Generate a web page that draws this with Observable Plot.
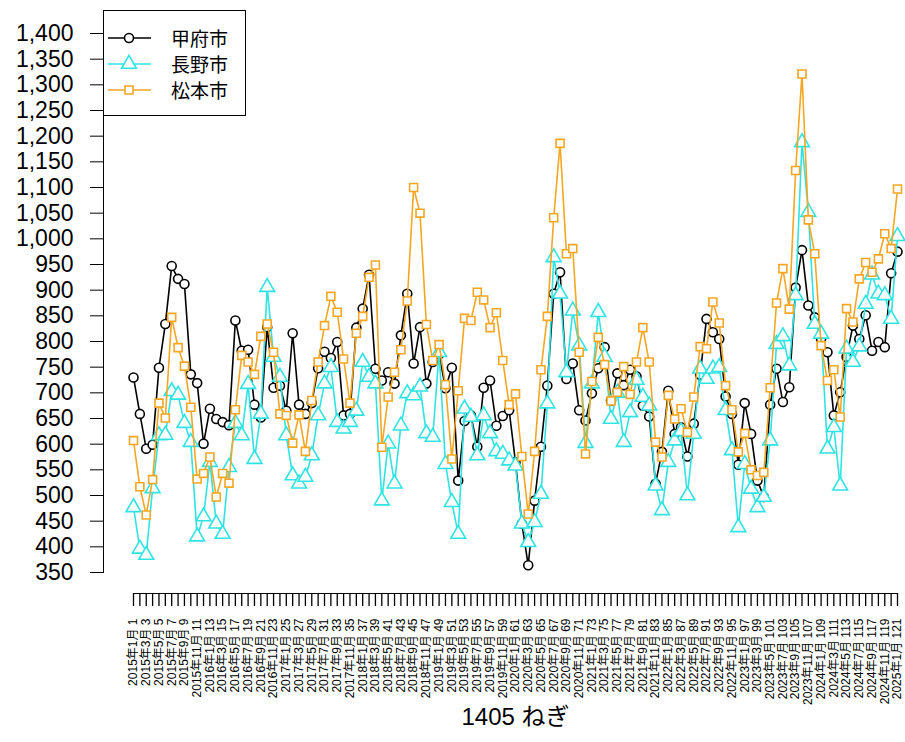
<!DOCTYPE html>
<html>
<head>
<meta charset="utf-8">
<script src="https://cdn.jsdelivr.net/npm/d3@7"></script>
<script src="https://cdn.jsdelivr.net/npm/@observablehq/plot@0.6"></script>
<style>
  html, body { margin: 0; padding: 0; background: #fff; }
  #wrap { position: relative; width: 905px; height: 742px; }
  #legend { position: absolute; left: 103px; top: 10px; width: 143px; height: 106px;
    border: 1px solid #000; background: #fff; box-sizing: border-box;
    font-family: "Noto Sans CJK JP", sans-serif; font-size: 19px; }
  .row { position: absolute; left: 0; height: 22px; display: flex; align-items: center; }
  .row svg { display: block; }
  .row span { margin-left: 20px; line-height: 20px; height: 20px; display: block; }
</style>
</head>
<body>
<div id="wrap"><div id="chart"></div><div id="legend"></div></div>
<script>
const seriesNames = ["甲府市", "長野市", "松本市"];
const seriesColors = ["#000000", "#2fe3e3", "#f5a623"];
const seriesSymbols = ["circle", "triangle", "square"];

const kofu = [730,659,591,599,749,834,947,922,912,736,719,601,669,649,643,637,841,782,784,677,
  652,828,710,714,665,816,677,659,680,748,780,768,799,656,659,827,864,930,747,724,
  740,718,812,893,757,828,718,760,775,709,749,529,645,656,595,710,724,636,655,666,
  565,445,364,490,595,714,893,935,727,757,666,646,699,748,789,685,738,715,745,732,
  675,654,523,585,704,620,633,576,640,735,844,818,805,693,659,560,680,620,529,497,
  677,747,682,711,905,978,870,847,805,779,656,701,770,831,805,851,782,799,789,933,975];

const nagano = [477,396,384,514,617,618,703,696,641,604,420,459,565,445,425,555,641,617,717,571,
  659,906,770,731,617,539,523,536,578,656,718,750,643,630,643,665,760,731,718,490,
  601,523,636,699,695,712,621,614,779,561,487,425,669,653,578,656,621,586,581,568,
  558,445,409,448,503,679,964,893,740,860,792,602,718,857,770,649,700,604,662,725,
  692,675,519,471,565,607,625,500,620,747,727,747,750,666,588,438,561,513,477,497,
  607,795,810,753,890,1188,1052,834,815,591,633,519,786,760,790,873,930,893,890,844,1005];

const matsumoto = [607,517,462,531,680,651,847,788,752,672,532,543,575,497,543,524,667,773,760,736,
  810,834,779,659,656,602,657,586,685,760,831,888,857,766,680,816,849,925,949,594,
  692,740,784,879,1100,1050,833,763,794,716,571,704,845,841,896,881,827,856,763,677,
  698,576,464,586,745,849,1041,1186,971,981,779,581,722,808,755,684,701,751,697,760,
  827,760,604,575,695,649,669,623,692,790,786,877,836,714,667,585,621,550,539,545,
  710,875,942,863,1133,1321,1037,971,792,724,745,653,864,838,922,954,935,961,1010,981,1097];

const yTicks = [350,400,450,500,550,600,650,700,750,800,850,900,950,1000,1050,1100,1150,1200,1250,1300,1350,1400];
const xIndex = d3.range(1, 122);
const xLabels = xIndex.map(i => {
  const m = (i - 1) % 12 + 1;
  const y = 2015 + Math.floor((i - 1) / 12);
  return `${y}年${m}月 ${i}`;
});
const xTitle = "1405 ねぎ";

const seriesValues = [kofu, nagano, matsumoto];
const tables = seriesValues.map((vals, s) => vals.map((v, i) => ({i: i + 1, v, s: seriesNames[s]})));

const marks = [
  Plot.frame({anchor: "left", dx: -30, stroke: "#000"}),
  Plot.frame({anchor: "bottom", dy: 21, stroke: "#000"}),
  Plot.axisY({ticks: yTicks, tickFormat: d3.format(","), tickSize: 13, tickPadding: 17, dx: -30,
    fontSize: 23, label: null, fontFamily: "Liberation Sans, Arial, sans-serif", fill: "#000"}),
  Plot.axisX({ticks: xIndex, tickFormat: () => "", tickSize: 13, dy: 21, label: null, strokeWidth: 1.3}),
  Plot.axisX({ticks: xIndex.filter(i => i % 2 === 1), tickFormat: i => xLabels[i - 1], tickSize: 0,
    tickPadding: 0, dy: 46, tickRotate: -90, fontSize: 12, label: null,
    fontFamily: "Liberation Sans, 'Noto Sans CJK JP', sans-serif", fill: "#000"}),
  Plot.text([xTitle], {frameAnchor: "bottom", dy: 152, fontSize: 24,
    fontFamily: "Liberation Sans, 'Noto Sans CJK JP', sans-serif", fill: "#000"})
];
tables.forEach((t, s) => {
  marks.push(Plot.line(t, {x: "i", y: "v", stroke: seriesColors[s], strokeWidth: 1.6}));
  marks.push(Plot.dot(t, {x: "i", y: "v", stroke: seriesColors[s], fill: "#fff", strokeWidth: 1.6,
    symbol: seriesSymbols[s], r: s === 1 ? 5.5 : 4.5}));
});

const chart = Plot.plot({
  width: 905, height: 742,
  marginLeft: 133, marginRight: 8, marginTop: 33, marginBottom: 170,
  x: {type: "linear", domain: [1, 121]},
  y: {domain: [350, 1400]},
  style: {background: "#fff", fontFamily: "Liberation Sans, 'Noto Sans CJK JP', sans-serif"},
  marks
});
document.getElementById("chart").appendChild(chart);

// legend
const legend = document.getElementById("legend");
const rowTops = [16, 42, 68];
seriesNames.forEach((name, s) => {
  const row = document.createElement("div");
  row.className = "row";
  row.style.top = rowTops[s] + "px";
  const sym = d3.create("svg").attr("width", 47).attr("height", 22);
  sym.append("line").attr("x1", 4).attr("x2", 47).attr("y1", 11).attr("y2", 11)
    .attr("stroke", seriesColors[s]).attr("stroke-width", 1.6);
  sym.append("path").attr("d", d3.symbol(seriesSymbols[s] === "circle" ? d3.symbolCircle :
      seriesSymbols[s] === "triangle" ? d3.symbolTriangle : d3.symbolSquare, s === 1 ? 95 : 64)())
    .attr("transform", "translate(25,11)")
    .attr("fill", "#fff").attr("stroke", seriesColors[s]).attr("stroke-width", 1.6);
  row.appendChild(sym.node());
  const sp = document.createElement("span");
  sp.textContent = name;
  row.appendChild(sp);
  legend.appendChild(row);
});
</script>
</body>
</html>
